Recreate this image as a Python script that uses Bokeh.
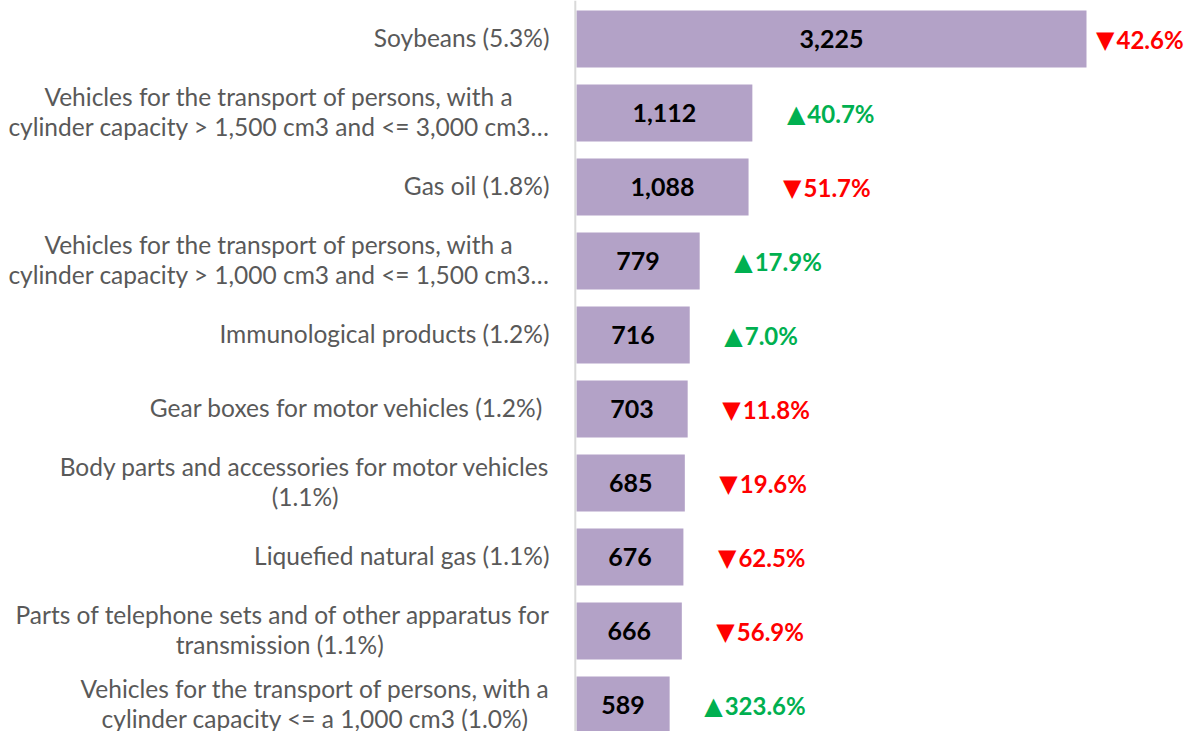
import subprocess
from bokeh.plotting import figure
from bokeh.models import ColumnDataSource, Range1d, Span
from bokeh.core.properties import value
from bokeh.embed import file_html
from bokeh.resources import INLINE

categories = [
    "Soybeans (5.3%)",
    "Vehicles for the transport of persons, with a\ncylinder capacity > 1,500 cm3 and <= 3,000 cm3…",
    "Gas oil (1.8%)",
    "Vehicles for the transport of persons, with a\ncylinder capacity > 1,000 cm3 and <= 1,500 cm3…",
    "Immunological products (1.2%)",
    "Gear boxes for motor vehicles  (1.2%)",
    "Body parts and accessories for motor vehicles\n(1.1%)",
    "Liquefied natural gas (1.1%)",
    "Parts of telephone sets and of other apparatus for\ntransmission  (1.1%)",
    "Vehicles for the transport of persons, with a\ncylinder capacity <= a 1,000 cm3 (1.0%)",
]
values = [3225, 1112, 1088, 779, 716, 703, 685, 676, 666, 589]
changes = [-42.6, 40.7, -51.7, 17.9, 7.0, -11.8, -19.6, -62.5, -56.9, 323.6]

W, H = 1193, 731
FONT = "Lato"
CAT_SIZE = 24.5
x0_px = 576.0          # pixel of value 0
scale = 510.0 / 3225   # px per unit
row_px = 74.0
first_px = 38.5
LINE_GAP = 30.0

# ---- text width measurement (for centring multi-line labels) ----
_measure = None
try:
    from PIL import ImageFont
    path = subprocess.run(["fc-match", "-f", "%{file}", FONT],
                          capture_output=True, text=True).stdout.strip()
    _f = ImageFont.truetype(path, 100)
    _measure = lambda s: _f.getlength(s) / 100.0
except Exception:
    _measure = None


def text_em(s):
    if _measure is not None:
        try:
            return _measure(s)
        except Exception:
            pass
    w = 0.0
    for ch in s:
        if ch == " ":
            w += 0.193
        elif ch in ".,":
            w += 0.2
        elif ch in "()":
            w += 0.3
        elif ch in "%…":
            w += 0.8
        elif ch.isdigit() or ch in "<=>":
            w += 0.58
        elif ch in "ilj":
            w += 0.24
        elif ch in "ftr":
            w += 0.33
        elif ch == "m":
            w += 0.83
        elif ch == "w":
            w += 0.75
        elif ch == "s":
            w += 0.4
        elif ch == "c":
            w += 0.44
        elif ch.isupper():
            w += 0.6
        else:
            w += 0.52
    return w


x_start = -x0_px / scale
x_end = (W - x0_px) / scale
y_top = -first_px / row_px
y_bottom = y_top + H / row_px

idx = list(range(len(values)))

# category label lines, centred within a block right-aligned 27px left of axis
ly, lxo, lyo, lt = [], [], [], []
for i, cat in enumerate(categories):
    lines = cat.split("\n")
    maxw = max(text_em(l) for l in lines) * CAT_SIZE
    n = len(lines)
    for k, l in enumerate(lines):
        ly.append(i)
        lt.append(l)
        lxo.append(-27 - maxw / 2)
        lyo.append((k - (n - 1) / 2) * LINE_GAP - 2)
lab_src = ColumnDataSource(dict(y=ly, xo=lxo, yo=lyo, t=lt))

value_txt = [f"{v:,}" for v in values]
num_txt = [f"{abs(c):.1f}%" for c in changes]
tri_txt = ["▲" if c >= 0 else "▼" for c in changes]
change_col = ["#00B050" if c >= 0 else "#FF0000" for c in changes]
anchor_x = []
for v in values:
    apx = min(x0_px + v * scale + 55, W - 77)
    anchor_x.append((apx - x0_px) / scale)

src = ColumnDataSource(dict(
    y=idx, v=values, half=[v / 2 for v in values],
    vt=value_txt, nt=num_txt, tt=tri_txt, cc=change_col, ax=anchor_x,
))

p = figure(width=W, height=H, output_backend="svg", toolbar_location=None,
           x_range=Range1d(x_start, x_end), y_range=Range1d(y_bottom, y_top),
           min_border=0, outline_line_color=None)
p.axis.visible = False
p.grid.visible = False
p.background_fill_color = "white"

p.hbar(y="y", left=0, right="v", height=0.77, source=src,
       fill_color="#B3A2C7", line_color=None)

p.add_layout(Span(location=-1.2 / scale, dimension="height",
                  line_color="#D9D9D9", line_width=2))

p.text(x=0, y="y", text="t", source=lab_src, x_offset="xo", y_offset="yo",
       text_align="center", text_baseline="middle",
       text_font=value(FONT), text_font_size=f"{CAT_SIZE}px",
       text_color="#595959")

p.text(x="half", y="y", text="vt", source=src,
       text_align="center", text_baseline="middle",
       text_font=value(FONT), text_font_style="bold",
       text_font_size="25px", text_color="black")

p.text(x="ax", y="y", text="nt", source=src,
       text_align="left", text_baseline="middle",
       text_font=value(FONT), text_font_style="bold",
       text_font_size="24px", text_color="cc")

p.text(x="ax", y="y", text="tt", source=src, x_offset=-2, y_offset=1,
       text_align="right", text_baseline="middle",
       text_font=value("DejaVu Sans"),
       text_font_size="24px", text_color="cc")

open("out.html", "w").write(file_html(p, INLINE))
